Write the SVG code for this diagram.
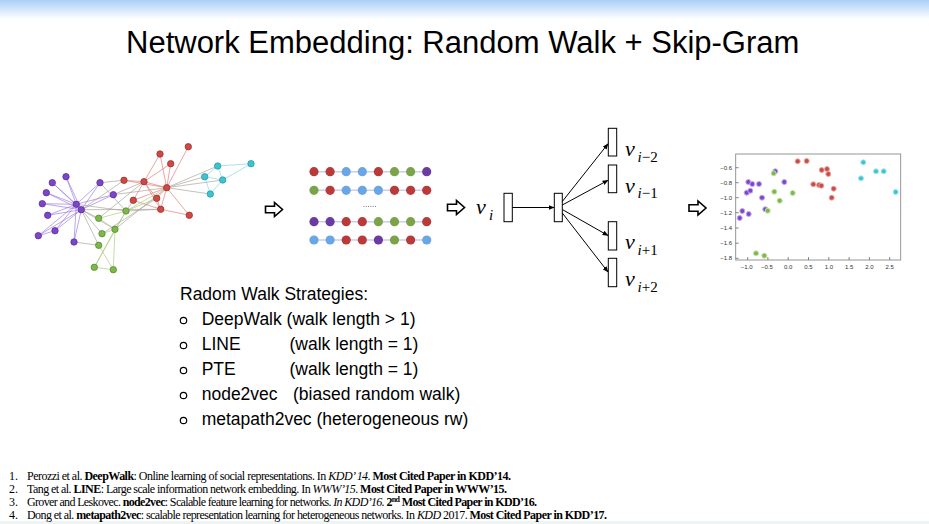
<svg xmlns="http://www.w3.org/2000/svg" width="929" height="524" viewBox="0 0 929 524">
<defs>
<linearGradient id="topbar" x1="0" y1="0" x2="0" y2="1">
<stop offset="0" stop-color="#a9cff8"/>
<stop offset="1" stop-color="#ffffff"/>
</linearGradient>
<marker id="ah" viewBox="0 0 10 10" refX="9" refY="5" markerWidth="6" markerHeight="6" orient="auto">
<path d="M0,1 L10,5 L0,9 Z" fill="#000"/>
</marker>
<path id="bigarrow" d="M0,-3.3 H9 V-7 L17,0 L9,7 V3.3 H0 Z" fill="#fff" stroke="#000" stroke-width="1.6" stroke-linejoin="miter"/>
</defs>
<style>
.title{font-family:"Liberation Sans",Arial,sans-serif;font-size:31px;fill:#000}
.st{font-family:"Liberation Sans",Arial,sans-serif;font-size:17.5px;fill:#000}
.ref{font-family:"Liberation Serif","Times New Roman",serif;font-size:12px;fill:#000}
.b{font-weight:bold}
.i{font-style:italic}
.vm{font-family:"Liberation Serif","DejaVu Serif",serif;font-style:italic;font-size:22px;fill:#000}
.vs{font-family:"Liberation Serif","DejaVu Serif",serif;font-size:15px;fill:#000}
.vsi{font-style:italic}
.tick{font-family:"Liberation Sans",Arial,sans-serif;font-size:6px;fill:#333}
.box{fill:#fff;stroke:#000;stroke-width:1}
.ge{stroke-width:0.9;fill:none;opacity:0.75}
.ep{stroke:#9b7be0}
.er{stroke:#e07a78}
.eg{stroke:#a8cc7a}
.ec{stroke:#7fd6df}
.ex{stroke:#a8a29a}
.np{fill:#7c46c8;stroke:#5a2ea0;stroke-width:0.8}
.nr{fill:#cc4a44;stroke:#a0302c;stroke-width:0.8}
.ng{fill:#7cb84a;stroke:#5a8a30;stroke-width:0.8}
.nc{fill:#3ec3d3;stroke:#2a9aa8;stroke-width:0.8}
.wl{stroke:#c9cfe6;stroke-width:1.6}
.wr{fill:#b83a3a}.wb{fill:#6aa6e6}.wg{fill:#7ba34a}.wp{fill:#6b3aa3}
.sr{fill:#cc4a44;stroke:#e8a8a4;stroke-width:1}
.sc{fill:#3ec3d3;stroke:#a6e6ee;stroke-width:1}
.sp{fill:#7c46c8;stroke:#c4a8ee;stroke-width:1}
.sg{fill:#7cb84a;stroke:#c4e2a8;stroke-width:1}
</style>
<rect x="0" y="0" width="929" height="524" fill="#fff"/>
<rect x="0" y="0" width="929" height="19" fill="url(#topbar)"/>
<rect x="0" y="521" width="929" height="3" fill="#eef3f3"/>

<g id="title"><text class="title" x="126" y="53">Network Embedding: Random Walk + Skip-Gram</text></g>

<!-- Input graph -->
<g id="input-graph">
<g id="graph-edges">
<!-- purple -->
<path class="ge ep" d="M76.3,204.3 L66,176.7 M76.3,204.3 L52.3,182.7 M76.3,204.3 L46.3,192.7 M76.3,204.3 L42.3,203.7 M76.3,204.3 L47.7,215.3 M76.3,204.3 L55,230.7 M76.3,204.3 L38.3,235.7 M81.3,209.7 L66,176.7 M81.3,209.7 L52.3,182.7 M81.3,209.7 L46.3,192.7 M81.3,209.7 L42.3,203.7 M81.3,209.7 L47.7,215.3 M81.3,209.7 L55,230.7 M81.3,209.7 L38.3,235.7 M81.3,209.7 L74,242 M76.3,204.3 L74,242 M55,230.7 L38.3,235.7 M76.3,204.3 L100,182.7 M81.3,209.7 L100,182.7 M76.3,204.3 L113.3,194.7 M81.3,209.7 L113.3,194.7 M76.3,204.3 L81.3,209.7"/>
<!-- red -->
<path class="ge er" d="M124,180.3 L144,181.7 M144,181.7 L166.7,187.7 M144,181.7 L160,154 M144,181.7 L133.3,200.3 M144,181.7 L170.7,163.7 M144,181.7 L160.7,209.3 M160,154 L166.7,187.7 M170.7,163.7 L166.7,187.7 M188.3,146.7 L166.7,187.7 M133.3,200.3 L166.7,187.7 M156.7,198.3 L166.7,187.7 M160.7,209.3 L166.7,187.7 M189.3,215.3 L166.7,187.7 M160.7,209.3 L189.3,215.3 M156.7,198.3 L160.7,209.3 M133.3,200.3 L160.7,209.3 M144,181.7 L156.7,198.3 M124,180.3 L166.7,187.7"/>
<!-- green -->
<path class="ge eg" d="M98.7,218.3 L126,211 M115,229.3 L126,211 M102,233.7 L115,229.3 M98.7,245.3 L113.3,269.7 M94.3,267.3 L113.3,269.7 M115,229.3 L94.3,267.3 M115,229.3 L113.3,269.7 M98.7,218.3 L115,229.3 M126,211 L94.3,267.3 M126,211 L166.7,187.7 M126,211 L156.7,198.3"/>
<!-- cyan -->
<path class="ge ec" d="M217.7,166 L251,163.7 M217.7,166 L204.7,176.7 M217.7,166 L222.7,180 M251,163.7 L222.7,180 M204.7,176.7 L222.7,180 M222.7,180 L210.3,194 M204.7,176.7 L210.3,194"/>
<!-- cross -->
<path class="ge ex" d="M166.7,187.7 L204.7,176.7 M166.7,187.7 L222.7,180 M166.7,187.7 L217.7,166 M166.7,187.7 L210.3,194 M81.3,209.7 L98.7,218.3 M81.3,209.7 L102,233.7 M81.3,209.7 L98.7,245.3 M81.3,209.7 L115,229.3 M74,242 L98.7,245.3 M76.3,204.3 L126,211 M81.3,209.7 L160.7,209.3 M100,182.7 L124,180.3 M113.3,194.7 L144,181.7 M100,182.7 L126,211 M113.3,194.7 L166.7,187.7 M126,211 L133.3,200.3 M115,229.3 L166.7,187.7 M98.7,218.3 L144,181.7 M126,211 L160.7,209.3 M102,233.7 L156.7,198.3 M81.3,209.7 L124,180.3"/>
</g>
<g id="graph-nodes">
<circle class="np" cx="66" cy="176.7" r="3.2"/>
<circle class="np" cx="52.3" cy="182.7" r="3.2"/>
<circle class="np" cx="46.3" cy="192.7" r="3.2"/>
<circle class="np" cx="42.3" cy="203.7" r="3.2"/>
<circle class="np" cx="47.7" cy="215.3" r="3.2"/>
<circle class="np" cx="38.3" cy="235.7" r="3.2"/>
<circle class="np" cx="55" cy="230.7" r="3.2"/>
<circle class="np" cx="74" cy="242" r="3.2"/>
<circle class="np" cx="76.3" cy="204.3" r="3.2"/>
<circle class="np" cx="81.3" cy="209.7" r="3.2"/>
<circle class="np" cx="100" cy="182.7" r="3.2"/>
<circle class="np" cx="113.3" cy="194.7" r="3.2"/>
<circle class="ng" cx="98.7" cy="218.3" r="3.2"/>
<circle class="ng" cx="102" cy="233.7" r="3.2"/>
<circle class="ng" cx="115" cy="229.3" r="3.2"/>
<circle class="ng" cx="98.7" cy="245.3" r="3.2"/>
<circle class="ng" cx="94.3" cy="267.3" r="3.2"/>
<circle class="ng" cx="113.3" cy="269.7" r="3.2"/>
<circle class="ng" cx="126" cy="211" r="3.2"/>
<circle class="nr" cx="124" cy="180.3" r="3.2"/>
<circle class="nr" cx="144" cy="181.7" r="3.2"/>
<circle class="nr" cx="160" cy="154" r="3.2"/>
<circle class="nr" cx="170.7" cy="163.7" r="3.2"/>
<circle class="nr" cx="188.3" cy="146.7" r="3.2"/>
<circle class="nr" cx="166.7" cy="187.7" r="3.2"/>
<circle class="nr" cx="133.3" cy="200.3" r="3.2"/>
<circle class="nr" cx="156.7" cy="198.3" r="3.2"/>
<circle class="nr" cx="160.7" cy="209.3" r="3.2"/>
<circle class="nr" cx="189.3" cy="215.3" r="3.2"/>
<circle class="nc" cx="217.7" cy="166" r="3.2"/>
<circle class="nc" cx="251" cy="163.7" r="3.2"/>
<circle class="nc" cx="204.7" cy="176.7" r="3.2"/>
<circle class="nc" cx="222.7" cy="180" r="3.2"/>
<circle class="nc" cx="210.3" cy="194" r="3.2"/>
</g>
</g>

<!-- block arrows -->
<g id="arrow-1"><use href="#bigarrow" x="265.5" y="209.5"/></g>
<g id="arrow-2"><use href="#bigarrow" x="447.5" y="207.5"/></g>
<g id="arrow-3"><use href="#bigarrow" x="689" y="208"/></g>

<!-- walk sequences -->
<g id="walks">
<line class="wl" x1="314" y1="171.7" x2="426.7" y2="171.7"/>
<line class="wl" x1="314" y1="190.3" x2="426.7" y2="190.3"/>
<line class="wl" x1="314" y1="221.7" x2="426.7" y2="221.7"/>
<line class="wl" x1="314" y1="240" x2="426.7" y2="240"/>
<g id="walk-1">
<circle class="wr" cx="314" cy="171.7" r="4.6"/><circle class="wr" cx="330.1" cy="171.7" r="4.6"/><circle class="wb" cx="346.2" cy="171.7" r="4.6"/><circle class="wb" cx="362.3" cy="171.7" r="4.6"/><circle class="wr" cx="378.4" cy="171.7" r="4.6"/><circle class="wg" cx="394.5" cy="171.7" r="4.6"/><circle class="wg" cx="410.6" cy="171.7" r="4.6"/><circle class="wp" cx="426.7" cy="171.7" r="4.6"/>
</g>
<g id="walk-2">
<circle class="wg" cx="314" cy="190.3" r="4.6"/><circle class="wr" cx="330.1" cy="190.3" r="4.6"/><circle class="wb" cx="346.2" cy="190.3" r="4.6"/><circle class="wb" cx="362.3" cy="190.3" r="4.6"/><circle class="wb" cx="378.4" cy="190.3" r="4.6"/><circle class="wr" cx="394.5" cy="190.3" r="4.6"/><circle class="wr" cx="410.6" cy="190.3" r="4.6"/><circle class="wr" cx="426.7" cy="190.3" r="4.6"/>
</g>
<g id="walk-ellipsis" fill="#777">
<circle cx="364" cy="206.3" r="0.6"/><circle cx="366.3" cy="206.3" r="0.6"/><circle cx="368.6" cy="206.3" r="0.6"/><circle cx="370.9" cy="206.3" r="0.6"/><circle cx="373.2" cy="206.3" r="0.6"/><circle cx="375.5" cy="206.3" r="0.6"/>
</g>
<g id="walk-3">
<circle class="wp" cx="314" cy="221.7" r="4.6"/><circle class="wp" cx="330.1" cy="221.7" r="4.6"/><circle class="wr" cx="346.2" cy="221.7" r="4.6"/><circle class="wr" cx="362.3" cy="221.7" r="4.6"/><circle class="wg" cx="378.4" cy="221.7" r="4.6"/><circle class="wg" cx="394.5" cy="221.7" r="4.6"/><circle class="wg" cx="410.6" cy="221.7" r="4.6"/><circle class="wr" cx="426.7" cy="221.7" r="4.6"/>
</g>
<g id="walk-4">
<circle class="wb" cx="314" cy="240" r="4.6"/><circle class="wb" cx="330.1" cy="240" r="4.6"/><circle class="wr" cx="346.2" cy="240" r="4.6"/><circle class="wr" cx="362.3" cy="240" r="4.6"/><circle class="wp" cx="378.4" cy="240" r="4.6"/><circle class="wg" cx="394.5" cy="240" r="4.6"/><circle class="wr" cx="410.6" cy="240" r="4.6"/><circle class="wb" cx="426.7" cy="240" r="4.6"/>
</g>
</g>

<!-- skip-gram -->
<g id="vi-label"><text class="vm" x="476" y="214.3">v</text><text class="vs vsi" x="489" y="219.5">i</text></g>
<g id="input-vec"><rect class="box" x="504" y="193.3" width="8.3" height="28.4"/></g>
<g id="hidden-vec"><rect class="box" x="554.3" y="193.3" width="8" height="28.4"/></g>
<g id="out-1"><rect class="box" x="608.3" y="128.3" width="8.4" height="27.7"/><text class="vm" x="625" y="156">v</text><text class="vs" x="637.5" y="161.5"><tspan class="vsi">i</tspan>−2</text></g>
<g id="out-2"><rect class="box" x="608.3" y="165" width="8.4" height="27.7"/><text class="vm" x="625" y="192.7">v</text><text class="vs" x="637.5" y="198"><tspan class="vsi">i</tspan>−1</text></g>
<g id="out-3"><rect class="box" x="608.3" y="221.7" width="8.4" height="28.3"/><text class="vm" x="625" y="249.3">v</text><text class="vs" x="637.5" y="254.7"><tspan class="vsi">i</tspan>+1</text></g>
<g id="out-4"><rect class="box" x="608.3" y="258.3" width="8.4" height="28.4"/><text class="vm" x="625" y="286.3">v</text><text class="vs" x="637.5" y="291.5"><tspan class="vsi">i</tspan>+2</text></g>
<g id="connectors" stroke="#000" stroke-width="1" fill="none" marker-end="url(#ah)">
<line x1="512.3" y1="207.5" x2="554" y2="207.5"/>
<line x1="562.3" y1="201.5" x2="608" y2="143.8"/>
<line x1="562.3" y1="205" x2="608" y2="180.3"/>
<line x1="562.3" y1="209.5" x2="608" y2="235.5"/>
<line x1="562.3" y1="213" x2="608" y2="272"/>
</g>

<!-- scatter plot -->
<g id="embedding-plot">
<rect x="735.7" y="154" width="165" height="106" fill="#fff" stroke="#8a8a8a" stroke-width="0.9"/>
<g stroke="#555" stroke-width="0.7">
<path d="M735.7,167.7 h3 M735.7,182.7 h3 M735.7,197.7 h3 M735.7,212.7 h3 M735.7,228 h3 M735.7,243.2 h3 M735.7,258.3 h3"/>
<path d="M747.7,260 v-3 M767.9,260 v-3 M788.2,260 v-3 M808.5,260 v-3 M828.8,260 v-3 M849.1,260 v-3 M869.4,260 v-3 M889.7,260 v-3"/>
</g>
<g class="tick" text-anchor="end">
<text x="732" y="169.8">−0.6</text><text x="732" y="184.8">−0.8</text><text x="732" y="199.8">−1.0</text><text x="732" y="214.8">−1.2</text><text x="732" y="230">−1.4</text><text x="732" y="245.2">−1.6</text><text x="732" y="260.3">−1.8</text>
</g>
<g class="tick" text-anchor="middle">
<text x="746.7" y="269">−1.0</text><text x="766.9" y="269">−0.5</text><text x="788.2" y="269">0.0</text><text x="808.5" y="269">0.5</text><text x="828.8" y="269">1.0</text><text x="849.1" y="269">1.5</text><text x="869.4" y="269">2.0</text><text x="889.7" y="269">2.5</text>
</g>
<g id="pts">
<circle class="sr" cx="797.7" cy="161.3" r="2.5"/><circle class="sr" cx="806.7" cy="161" r="2.5"/><circle class="sr" cx="821.7" cy="170" r="2.5"/><circle class="sr" cx="827" cy="169" r="2.5"/><circle class="sr" cx="828.3" cy="174" r="2.5"/><circle class="sr" cx="813.3" cy="184.3" r="2.5"/><circle class="sr" cx="819" cy="185" r="2.5"/><circle class="sr" cx="821.3" cy="185.7" r="2.5"/><circle class="sr" cx="833.7" cy="188.7" r="2.5"/><circle class="sr" cx="831.7" cy="197.7" r="2.5"/>
<circle class="sc" cx="863.3" cy="162.3" r="2.5"/><circle class="sc" cx="876" cy="171.3" r="2.5"/><circle class="sc" cx="883.7" cy="171.3" r="2.5"/><circle class="sc" cx="861" cy="178.3" r="2.5"/><circle class="sc" cx="895.7" cy="192" r="2.5"/>
<circle class="sp" cx="775.3" cy="171.3" r="2.5"/><circle class="sp" cx="748.3" cy="182" r="2.5"/><circle class="sp" cx="752.3" cy="184" r="2.5"/><circle class="sp" cx="759" cy="184" r="2.5"/><circle class="sp" cx="784.3" cy="182" r="2.5"/><circle class="sp" cx="746.7" cy="192.7" r="2.5"/><circle class="sp" cx="750.3" cy="190.7" r="2.5"/><circle class="sp" cx="762" cy="197.7" r="2.5"/><circle class="sp" cx="742.3" cy="211" r="2.5"/><circle class="sp" cx="748.7" cy="214" r="2.5"/><circle class="sp" cx="739.7" cy="218" r="2.5"/><circle class="sp" cx="765.3" cy="209.3" r="2.5"/>
<circle class="sg" cx="773.7" cy="173.3" r="2.5"/><circle class="sg" cx="774.3" cy="191.7" r="2.5"/><circle class="sg" cx="779.7" cy="200.7" r="2.5"/><circle class="sg" cx="792.7" cy="193" r="2.5"/><circle class="sg" cx="767.7" cy="210.7" r="2.5"/><circle class="sg" cx="756" cy="253.3" r="2.5"/><circle class="sg" cx="764.3" cy="255.7" r="2.5"/>
</g>
</g>

<!-- strategies -->
<g id="strategies">
<text class="st" x="180" y="300">Radom Walk Strategies:</text>
<g fill="none" stroke="#000" stroke-width="1.2">
<circle cx="183.5" cy="320.5" r="3.2"/><circle cx="183.5" cy="345.5" r="3.2"/><circle cx="183.5" cy="370.5" r="3.2"/><circle cx="183.5" cy="395.5" r="3.2"/><circle cx="183.5" cy="420.5" r="3.2"/>
</g>
<text class="st" x="201.7" y="324.5">DeepWalk (walk length &gt; 1)</text>
<text class="st" x="201.7" y="349.5">LINE</text><text class="st" x="289.5" y="349.5">(walk length = 1)</text>
<text class="st" x="201.7" y="374.5">PTE</text><text class="st" x="289.5" y="374.5">(walk length = 1)</text>
<text class="st" x="201.7" y="399.5">node2vec</text><text class="st" x="293" y="399.5">(biased random walk)</text>
<text class="st" x="201.7" y="424.5">metapath2vec (heterogeneous rw)</text>
</g>

<!-- references -->
<g id="references">
<text class="ref" x="9" y="479.5">1.</text>
<text class="ref" x="27" y="479.5" textLength="484" lengthAdjust="spacing">Perozzi et al. <tspan class="b">DeepWalk</tspan>: Online learning of social representations. In <tspan class="i">KDD’ 14</tspan>. <tspan class="b">Most Cited Paper in KDD’14.</tspan></text>
<text class="ref" x="9" y="492.5">2.</text>
<text class="ref" x="27" y="492.5" textLength="480" lengthAdjust="spacing">Tang et al. <tspan class="b">LINE</tspan>: Large scale information network embedding. In <tspan class="i">WWW’15</tspan>. <tspan class="b">Most  Cited Paper in WWW’15.</tspan></text>
<text class="ref" x="9" y="505.5">3.</text>
<text class="ref" x="27" y="505.5" textLength="510" lengthAdjust="spacing">Grover and Leskovec. <tspan class="b">node2vec</tspan>: Scalable feature learning for networks. <tspan class="i">In KDD’16.</tspan> <tspan class="b">2</tspan><tspan class="b" font-size="8" baseline-shift="super">nd</tspan><tspan class="b"> Most Cited Paper in KDD’16.</tspan></text>
<text class="ref" x="9" y="518.5">4.</text>
<text class="ref" x="27" y="518.5" textLength="580" lengthAdjust="spacing">Dong et al. <tspan class="b">metapath2vec</tspan>: scalable representation learning for heterogeneous networks. In <tspan class="i">KDD</tspan> 2017. <tspan class="b">Most Cited Paper in KDD’17.</tspan></text>
</g>
</svg>
